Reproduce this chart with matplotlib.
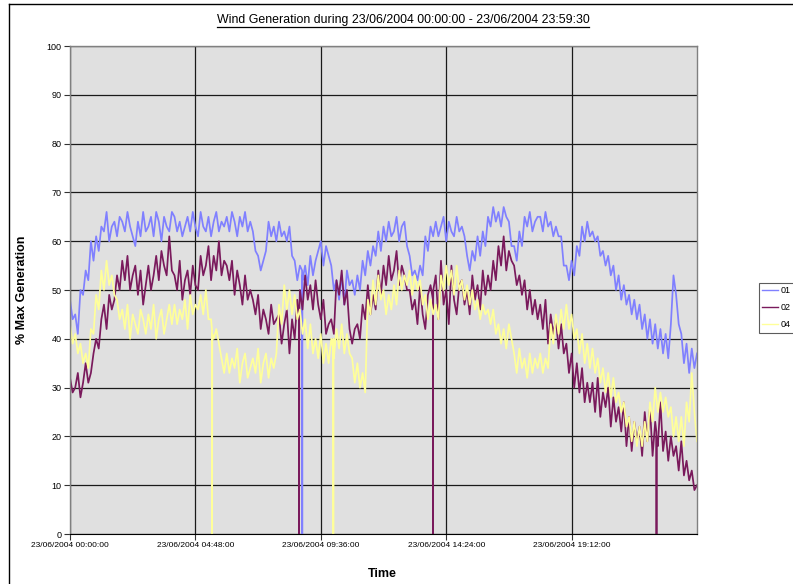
import numpy as np
import matplotlib
matplotlib.use("Agg")
import matplotlib.pyplot as plt
from matplotlib.lines import Line2D

# ---------------- data (every 0.1 h) ----------------
STEP_H = 0.1
SERIES_NAMES = ["01", "02", "04"]

s01 = [48, 44, 45, 41, 50, 49, 54, 52, 60, 56,
       61, 58, 63, 62, 66, 60, 63, 64, 61, 65,
       64, 62, 66, 63, 61, 59, 64, 61, 66, 62,
       63, 65, 61, 66, 64, 60, 65, 63, 62, 66,
       65, 62, 64, 61, 63, 65, 62, 66, 63, 61,
       66, 63, 62, 65, 61, 64, 66, 62, 64, 63,
       65, 62, 66, 64, 61, 65, 63, 66, 62, 64,
       62, 58, 57, 54, 56, 58, 64, 61, 63, 60,
       64, 61, 62, 60, 63, 57, 56, 52, 55, 52,
       55, 51, 57, 53, 56, 58, 60, 55, 59, 57,
       55, 50, 52, 48, 53, 47, 54, 51, 52, 49,
       53, 50, 56, 53, 58, 55, 59, 57, 62, 58,
       63, 60, 64, 61, 62, 65, 60, 63, 64, 59,
       57, 53, 54, 52, 55, 53, 61, 58, 63, 61,
       64, 61, 63, 65, 60, 64, 62, 61, 65, 62,
       63, 61, 57, 54, 58, 56, 61, 57, 62, 59,
       65, 63, 67, 64, 66, 63, 67, 65, 64, 59,
       59, 56, 62, 59, 65, 63, 66, 62, 64, 65,
       65, 62, 66, 63, 64, 61, 63, 61, 61, 55,
       55, 52, 56, 53, 59, 57, 63, 60, 64, 61,
       62, 60, 61, 57, 58, 55, 57, 53, 55, 50,
       53, 48, 51, 47, 49, 45, 48, 44, 47, 42,
       45, 40, 44, 39, 43, 38, 42, 37, 41, 36,
       43, 53, 49, 43, 41, 35, 39, 33, 38, 34,
       37]

s02 = [32, 29, 30, 33, 28, 31, 35, 31, 33, 37,
       40, 38, 44, 47, 42, 49, 46, 48, 53, 50,
       56, 52, 57, 50, 53, 55, 49, 54, 47, 51,
       55, 50, 53, 57, 52, 58, 55, 53, 61, 54,
       53, 50, 56, 48, 52, 54, 49, 55, 51, 50,
       57, 53, 55, 59, 52, 57, 54, 60, 53, 56,
       55, 52, 56, 49, 54, 51, 47, 53, 48, 50,
       48, 45, 49, 42, 46, 44, 41, 47, 43, 44,
       45, 39, 43, 46, 37, 44, 40, 48, 50, 46,
       53, 48, 51, 46, 52, 47, 44, 48, 41, 43,
       44, 41, 52, 49, 54, 47, 50, 42, 39, 42,
       43, 40, 47, 44, 51, 45, 49, 46, 54, 49,
       55, 51, 57, 52, 54, 58, 51, 55, 53, 50,
       50, 46, 48, 43, 51, 45, 42, 49, 51, 47,
       53, 44, 56, 47, 50, 43, 55, 48, 45, 51,
       52, 47, 50, 45, 53, 48, 51, 46, 54, 49,
       53, 50, 56, 52, 59, 55, 61, 54, 58, 56,
       55, 51, 53, 49, 52, 46, 50, 45, 48, 44,
       47, 42, 48, 39, 45, 41, 44, 38, 43, 37,
       39, 33, 37, 30, 35, 29, 34, 27, 31, 27,
       31, 25, 32, 24, 29, 26, 30, 22, 28, 23,
       26, 21, 27, 18, 24, 17, 23, 19, 22, 16,
       25, 19, 26, 16, 23, 18, 27, 17, 21, 15,
       20, 16, 18, 13, 19, 12, 15, 11, 13, 9,
       10]

s04 = [43, 39, 41, 37, 39, 35, 37, 34, 42, 41,
       49, 46, 54, 50, 56, 51, 53, 49, 48, 44,
       46, 42, 47, 40, 45, 43, 41, 46, 44, 41,
       45, 42, 47, 40, 44, 46, 41, 44, 47, 43,
       47, 43, 46, 44, 48, 42, 49, 45, 47, 46,
       49, 45, 50, 44, 44, 40, 42, 39, 36, 33,
       37, 33, 36, 34, 38, 31, 35, 37, 32, 34,
       36, 33, 38, 31, 35, 37, 32, 36, 34, 37,
       47, 43, 51, 46, 50, 45, 49, 44, 46, 41,
       44, 38, 43, 37, 40, 36, 41, 35, 39, 35,
       40, 36, 42, 38, 43, 37, 41, 37, 36, 31,
       35, 30, 33, 29, 48, 45, 52, 47, 53, 48,
       50, 45, 49, 46, 51, 47, 54, 50, 53, 51,
       54, 49, 53, 50, 52, 47, 49, 44, 48, 45,
       47, 44, 53, 50, 55, 51, 54, 49, 55, 50,
       52, 48, 51, 47, 50, 46, 48, 44, 47, 45,
       46, 43, 46, 41, 43, 39, 42, 38, 43, 40,
       37, 33, 38, 34, 36, 32, 37, 33, 36, 34,
       37, 33, 36, 34, 43, 39, 45, 41, 46, 42,
       47, 42, 45, 40, 42, 37, 41, 35, 39, 34,
       38, 33, 36, 31, 34, 29, 33, 28, 32, 27,
       29, 25, 27, 22, 24, 19, 23, 18, 22, 18,
       23, 19, 27, 23, 30, 25, 29, 25, 28, 24,
       26, 20, 24, 19, 24, 18, 27, 23, 33, 25,
       19]

# drop-outs to zero: (hour, value just before, value just after)
spikes01 = [(8.89, 54, 53)]
spikes02 = [(8.77, 44, 45), (13.90, 48, 50), (22.45, 21, 20)]
spikes04 = [(5.44, 42, 41), (10.08, 38, 40)]

x_tick_hours = [0, 4.8, 9.6, 14.4, 19.2]
x_tick_labels = ["23/06/2004 00:00:00", "23/06/2004 04:48:00", "23/06/2004 09:36:00",
                 "23/06/2004 14:24:00", "23/06/2004 19:12:00"]
y_ticks = [0, 10, 20, 30, 40, 50, 60, 70, 80, 90, 100]

title = "Wind Generation during 23/06/2004 00:00:00 - 23/06/2004 23:59:30"
colors = ["#8080ff", "#7a1a5c", "#ffff99"]

NARROW = ["Liberation Sans Narrow", "Liberation Sans", "DejaVu Sans"]
REG = ["Liberation Sans", "DejaVu Sans"]


def with_spikes(vals, spikes):
    t = np.arange(len(vals)) * STEP_H
    pts = list(zip(t, vals))
    for ts, vb, va in spikes:
        pts += [(ts - 0.006, vb), (ts, 0.0), (ts + 0.006, va)]
    pts.sort()
    tt, vv = zip(*pts)
    return np.array(tt), np.array(vv, dtype=float)


W, H = 793, 584
fig = plt.figure(figsize=(W / 100, H / 100), dpi=100)
fig.patch.set_facecolor("white")

L, R, T, B = 70, 697, 46, 534
ax = fig.add_axes([L / W, 1 - B / H, (R - L) / W, (B - T) / H])
ax.set_facecolor("#e0e0e0")

for vals, sp, c, name in zip([s01, s02, s04], [spikes01, spikes02, spikes04], colors, SERIES_NAMES):
    tt, vv = with_spikes(vals, sp)
    ax.plot(tt, vv, color=c, lw=1.25, label=name)

ax.set_xlim(0, 24)
ax.set_ylim(0, 100)
ax.set_yticks(y_ticks)
ax.set_yticklabels([str(v) for v in y_ticks], fontsize=6.5, family=NARROW)
ax.set_xticks(x_tick_hours)
ax.set_xticklabels(x_tick_labels, fontsize=6.0, family=NARROW)
ax.tick_params(axis="both", direction="out", length=4, width=0.8, color="#333333", pad=2)
ax.grid(True, color="#1a1a1a", lw=0.9)
ax.set_axisbelow(True)
for s in ["top", "right", "left"]:
    ax.spines[s].set_color("#808080")
    ax.spines[s].set_linewidth(1.0)
ax.spines["bottom"].set_color("#000000")

ax.set_ylabel("% Max Generation", fontsize=9, fontweight="bold", family=REG)
ax.yaxis.set_label_coords((28 - L) / (R - L), 0.5)
ax.set_xlabel("Time", fontsize=9, fontweight="bold", family=REG)
ax.xaxis.set_label_coords((382 - L) / (R - L), -(568 - B) / (B - T))

tt = fig.text(403 / W, 1 - 20 / H, title, ha="center", va="center", fontsize=8.9, family=NARROW)

# legend
handles = [Line2D([0], [0], color=c, lw=1.0) for c in colors]
leg = fig.legend(handles, SERIES_NAMES, loc="upper left", bbox_to_anchor=(759 / W, 1 - 283 / H),
                 frameon=True, fancybox=False, edgecolor="#333333",
                 handlelength=1.8, handletextpad=0.3, labelspacing=0.9, borderpad=0.35,
                 borderaxespad=0.0, prop={"family": NARROW, "size": 6.5})
leg.get_frame().set_linewidth(0.8)

# outer border (top and left, as in the reference)
fig.add_artist(Line2D([9 / W, 9 / W], [0, 1 - 4 / H], color="black", lw=1.0, transform=fig.transFigure))
fig.add_artist(Line2D([9 / W, 1], [1 - 4 / H, 1 - 4 / H], color="black", lw=1.0, transform=fig.transFigure))

# underline title
fig.canvas.draw()
bb = tt.get_window_extent(renderer=fig.canvas.get_renderer())
uy = (bb.y0 - 0.5) / H
fig.add_artist(Line2D([bb.x0 / W, bb.x1 / W], [uy, uy], color="black", lw=0.9, transform=fig.transFigure))

fig.savefig("out.png", dpi=100, facecolor="white")
